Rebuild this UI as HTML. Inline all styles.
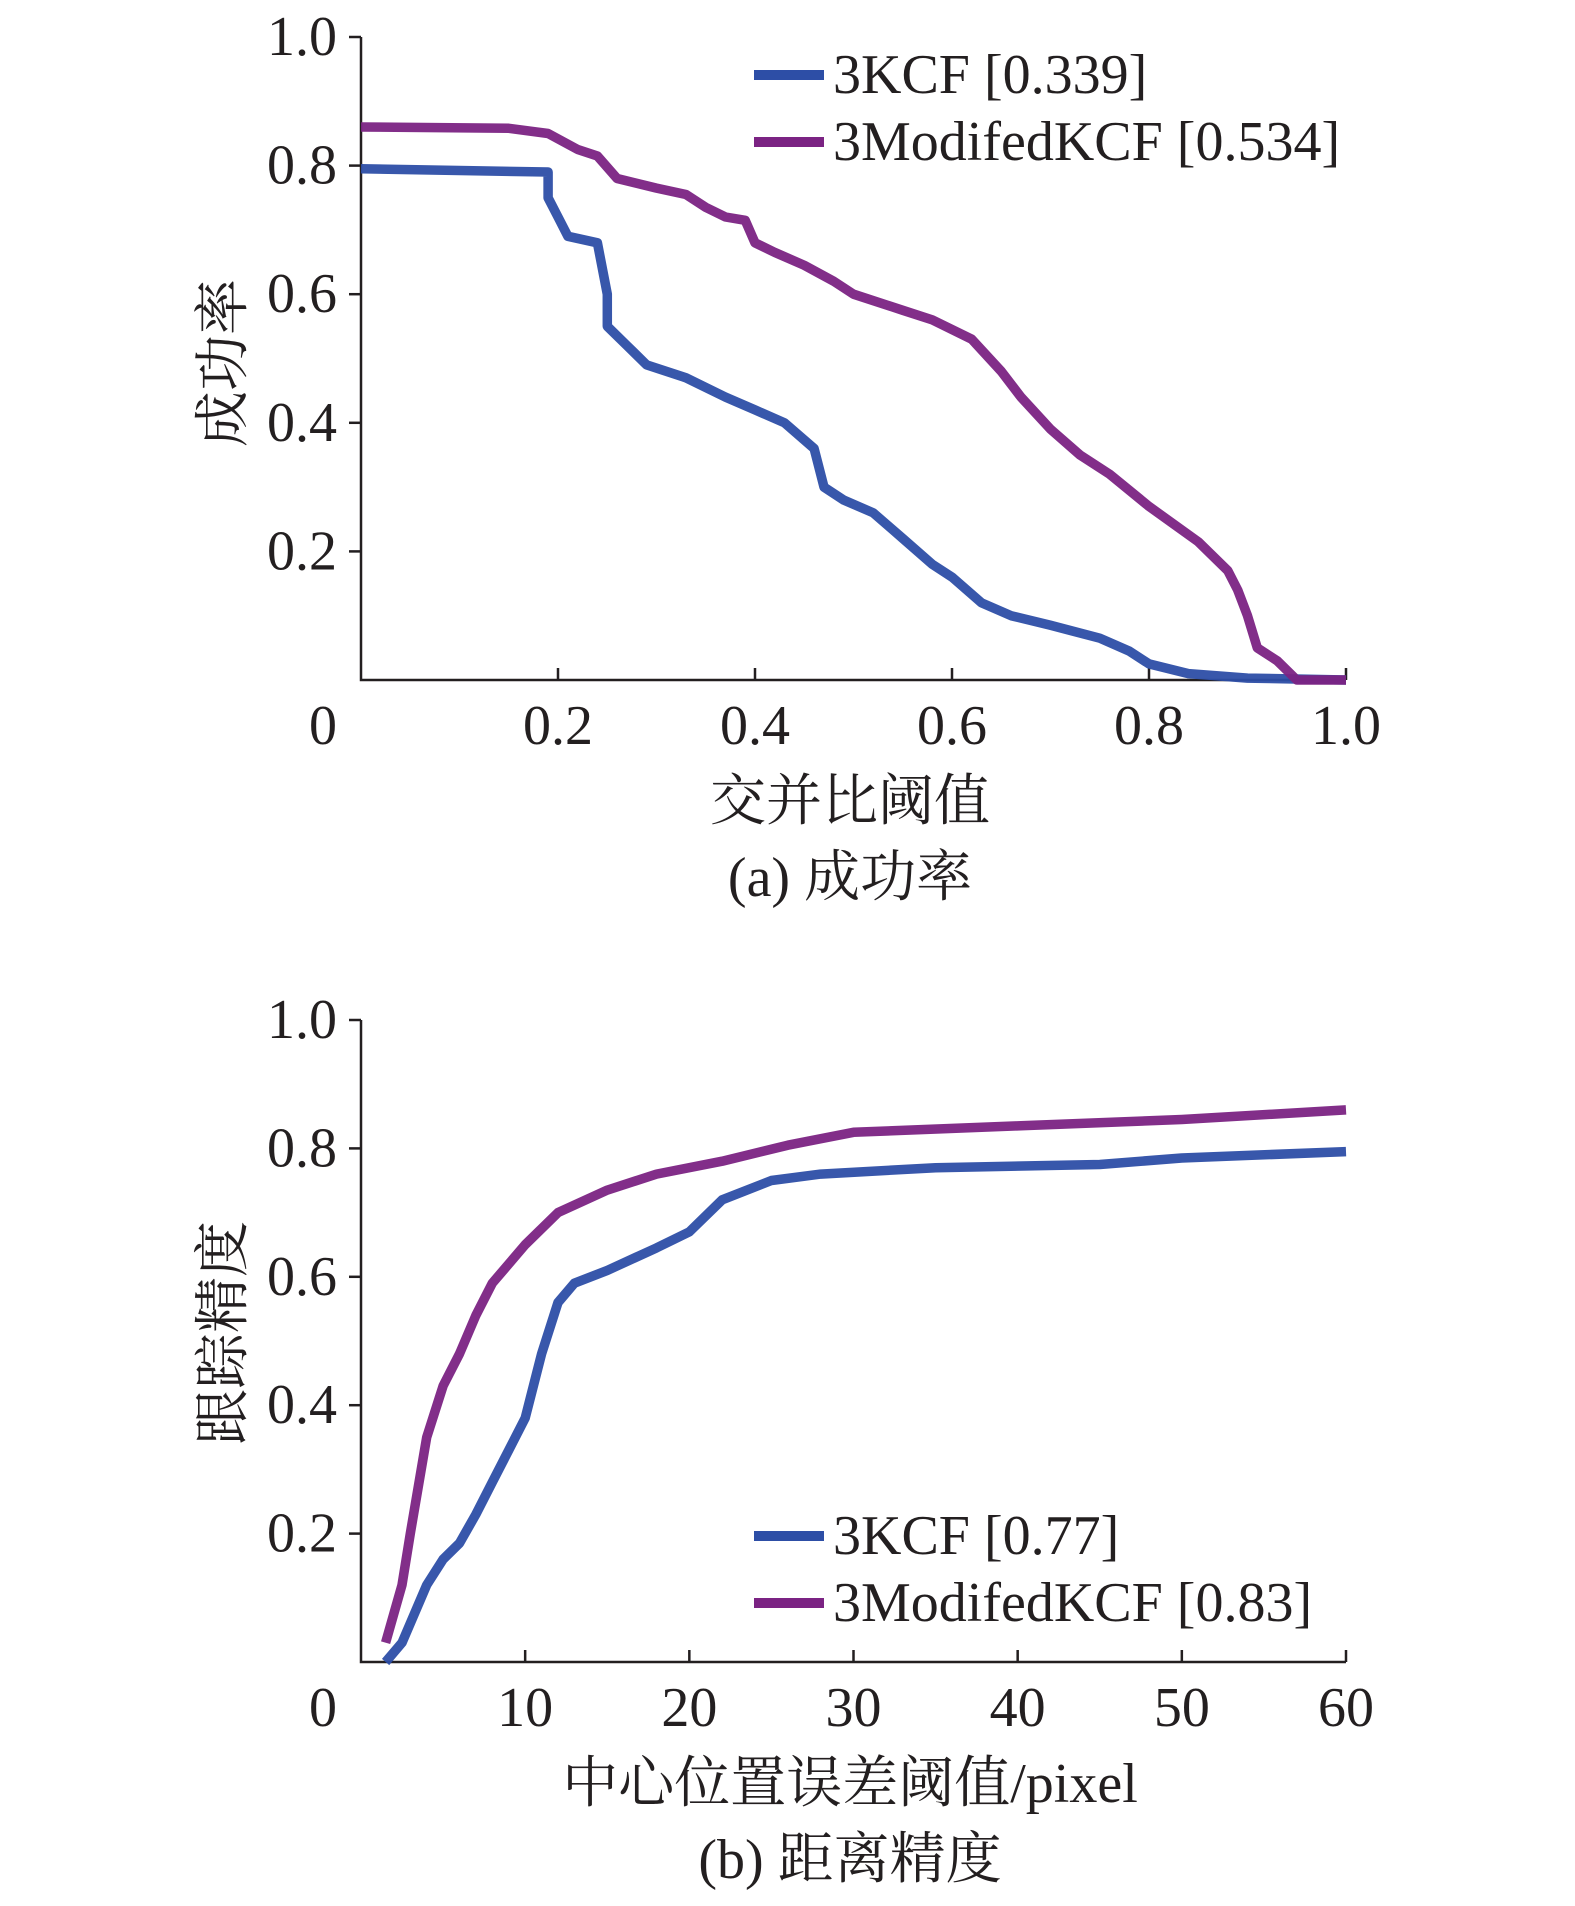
<!DOCTYPE html>
<html><head><meta charset="utf-8"><style>
body{margin:0;background:#fff;}
svg{display:block;font-family:"Liberation Serif","Noto Serif CJK SC",serif;}
</style></head><body>
<svg id="s" width="1575" height="1906" viewBox="0 0 1575 1906"></svg>
<script>
// Panel (a) data
const aBlueX=[0,0.19,0.19,0.2,0.21,0.24,0.25,0.25,0.27,0.29,0.33,0.37,0.4,0.43,0.46,0.47,0.49,0.52,0.55,0.58,0.6,0.63,0.66,0.7,0.75,0.78,0.8,0.84,0.9,1.0];
const aBlueY=[0.795,0.79,0.75,0.72,0.69,0.68,0.6,0.55,0.52,0.49,0.47,0.44,0.42,0.40,0.36,0.30,0.28,0.26,0.22,0.18,0.16,0.12,0.10,0.085,0.065,0.045,0.025,0.01,0.003,0];
const aPurpX=[0,0.15,0.19,0.22,0.24,0.26,0.3,0.33,0.35,0.37,0.39,0.4,0.42,0.45,0.48,0.5,0.55,0.58,0.62,0.65,0.67,0.7,0.73,0.76,0.8,0.85,0.88,0.89,0.9,0.91,0.93,0.95,1.0];
const aPurpY=[0.86,0.858,0.85,0.825,0.815,0.78,0.765,0.755,0.735,0.72,0.715,0.68,0.665,0.645,0.62,0.60,0.575,0.56,0.53,0.48,0.44,0.39,0.35,0.32,0.27,0.215,0.17,0.14,0.1,0.05,0.03,0,0];
const aXTicks=["0.2","0.4","0.6","0.8","1.0"];
const aYTicks=["0.2","0.4","0.6","0.8","1.0"];
// Panel (b) data
const bBlueX=[1.5,2.5,4,5,6,7,8,9,10,11,12,13,15,18,20,22,25,28,35,45,50,60];
const bBlueY=[0,0.03,0.12,0.16,0.185,0.23,0.28,0.33,0.38,0.48,0.56,0.59,0.61,0.645,0.67,0.72,0.75,0.76,0.77,0.775,0.785,0.795];
const bPurpX=[1.5,2.5,3,4,5,6,7,8,10,12,15,18,22,26,30,40,50,60];
const bPurpY=[0.03,0.12,0.2,0.35,0.43,0.48,0.54,0.59,0.65,0.70,0.735,0.76,0.78,0.805,0.825,0.835,0.845,0.86];
const bXTicks=["10","20","30","40","50","60"];
const bYTicks=["0.2","0.4","0.6","0.8","1.0"];

const NS="http://www.w3.org/2000/svg";
const svg=document.getElementById('s');
const BLUE="#2d4ea6",PURP="#7b2383";
const FS=56;
function mk(t,a,p){const e=document.createElementNS(NS,t);for(const k in a)e.setAttribute(k,a[k]);(p||svg).appendChild(e);return e;}
function txt(x,y,s,size,anchor,name,rot){const e=mk('text',{x:x,y:y,'font-size':size,'text-anchor':anchor||'middle',fill:'#231f20','dominant-baseline':'central'});if(rot)e.setAttribute('transform','rotate(-90 '+x+' '+y+')');e.textContent=s;


return e;}
function panel(o){
  const X0=361,X1=1346;
  const sx=v=>X0+(v-o.xmin)/(o.xmax-o.xmin)*(X1-X0);
  const sy=v=>o.y0-(v)*(o.y0-o.y1);
  const g=mk('g',{});
  
  
  const ax=mk('path',{d:`M${X0} ${o.y1}V${o.y0}H${X1}`,stroke:'#231f20','stroke-width':2.5,fill:'none'},g);
  
  
  o.yt.forEach(l=>{const y=sy(parseFloat(l));
    const t=mk('line',{x1:X0-12,x2:X0,y1:y,y2:y,stroke:'#231f20','stroke-width':2.5},g);
    
    
    txt(337,y,l,FS,'end','y-tick-label');});
  o.xt.forEach(l=>{const x=sx(parseFloat(l));
    const t=mk('line',{x1:x,x2:x,y1:o.y0-12,y2:o.y0,stroke:'#231f20','stroke-width':2.5},g);
    
    
    txt(x,o.y0+46,l,FS,'middle','x-tick-label');});
  txt(323,o.y0+46,"0",FS,'middle','origin-label');
  [[o.bx,o.by,BLUE,'series-3kcf'],[o.px,o.py,PURP,'series-3modifiedkcf']].forEach(s=>{
    const d=s[0].map((v,i)=>(i?'L':'M')+sx(v).toFixed(1)+' '+sy(s[1][i]).toFixed(1)).join('');
    const p=mk('path',{d:d,stroke:s[2],'stroke-width':9.5,fill:'none','stroke-linejoin':'round','stroke-opacity':0.95},g);
    
    
  });
  o.leg.forEach((l,i)=>{const y=o.ly+i*67;
    const ln=mk('line',{x1:754,x2:824,y1:y,y2:y,stroke:i?PURP:BLUE,'stroke-width':10},g);
    
    
    txt(833,y,l,FS,'start','legend-entry');});
  txt(224,o.yc,o.ytitle,FS,'middle','y-axis-title',true);
  txt(850,o.xty,o.xtitle,FS,'middle','x-axis-title');
  txt(850,o.cy,o.cap,FS,'middle','panel-caption');
}
panel({name:'panel-a-success',xmin:0,xmax:1,y0:680,y1:37,xt:aXTicks,yt:aYTicks,bx:aBlueX,by:aBlueY,px:aPurpX,py:aPurpY,
  leg:["3KCF [0.339]","3ModifedKCF [0.534]"],ly:75,ytitle:"成功率",yc:363,xtitle:"交并比阈值",xty:802,cap:"(a) 成功率",cy:878});
panel({name:'panel-b-precision',xmin:0,xmax:60,y0:1662,y1:1020,xt:bXTicks,yt:bYTicks,bx:bBlueX,by:bBlueY,px:bPurpX,py:bPurpY,
  leg:["3KCF [0.77]","3ModifedKCF [0.83]"],ly:1536,ytitle:"跟踪精度",yc:1333,xtitle:"中心位置误差阈值/pixel",xty:1784,cap:"(b) 距离精度",cy:1860});
</script>
</body></html>
